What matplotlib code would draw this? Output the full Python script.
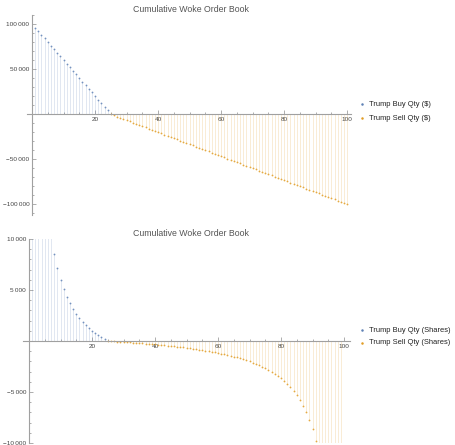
import numpy as np
import matplotlib
matplotlib.use("Agg")
import matplotlib.pyplot as plt
from matplotlib.ticker import FuncFormatter, MultipleLocator
from matplotlib.lines import Line2D

plt.rcParams['font.family'] = ['Liberation Sans', 'DejaVu Sans']

# price levels
buy_x = list(range(1, 25))
sell_x = list(range(25, 101))
sell_sh_x = list(range(25, 100))

# dollar quantities
buy_usd = [96000, 92000, 88000, 84000, 80000, 76000, 72000, 68000, 64000, 60000,
           56000, 52000, 48000, 44000, 40000, 36000, 32000, 28000, 24000, 20000,
           16000, 12000, 8000, 4000]
sell_usd = [0, -1333, -2667, -4000, -5333, -6667, -8000, -9333, -10667, -12000,
            -13333, -14667, -16000, -17333, -18667, -20000, -21333, -22667, -24000, -25333,
            -26667, -28000, -29333, -30667, -32000, -33333, -34667, -36000, -37333, -38667,
            -40000, -41333, -42667, -44000, -45333, -46667, -48000, -49333, -50667, -52000,
            -53333, -54667, -56000, -57333, -58667, -60000, -61333, -62667, -64000, -65333,
            -66667, -68000, -69333, -70667, -72000, -73333, -74667, -76000, -77333, -78667,
            -80000, -81333, -82667, -84000, -85333, -86667, -88000, -89333, -90667, -92000,
            -93333, -94667, -96000, -97333, -98667, -100000]

# share quantities
buy_sh = [96000, 46000, 29333, 21000, 16000, 12667, 10286, 8500, 7111, 6000,
          5091, 4333, 3692, 3143, 2667, 2250, 1882, 1556, 1263, 1000,
          762, 545, 348, 167]
sell_sh = [0, -18, -37, -56, -75, -95, -116, -137, -159, -182,
           -205, -229, -254, -280, -306, -333, -362, -391, -421, -452,
           -485, -519, -553, -590, -627, -667, -707, -750, -794, -841,
           -889, -939, -992, -1048, -1106, -1167, -1231, -1298, -1369, -1444,
           -1524, -1608, -1697, -1792, -1892, -2000, -2115, -2238, -2370, -2513,
           -2667, -2833, -3014, -3212, -3429, -3667, -3930, -4222, -4549, -4917,
           -5333, -5810, -6359, -7000, -7758, -8667, -9778, -11167, -12952, -15333,
           -18667, -23667, -32000, -48667, -98667]

blue = '#5e81b5'
orange = '#e19c24'
W, H = 456, 445


def fmt(v, pos):
    if v == 0:
        return ''
    s = '{:,}'.format(int(abs(v))).replace(',', '\u2009')
    return ('\u2212' + s) if v < 0 else s


def setup(ax, xlim, ylim, ymaj, ymin):
    ax.set_xlim(*xlim)
    ax.set_ylim(*ylim)
    for s in ['top', 'right']:
        ax.spines[s].set_visible(False)
    ax.spines['left'].set_position(('data', 0))
    ax.spines['bottom'].set_position(('data', 0))
    for s in ['left', 'bottom']:
        ax.spines[s].set_color('#a0a0a0')
        ax.spines[s].set_linewidth(0.8)
    ax.xaxis.set_major_locator(MultipleLocator(20))
    ax.xaxis.set_minor_locator(MultipleLocator(5))
    ax.yaxis.set_major_locator(MultipleLocator(ymaj))
    ax.yaxis.set_minor_locator(MultipleLocator(ymin))
    ax.xaxis.set_major_formatter(FuncFormatter(fmt))
    ax.yaxis.set_major_formatter(FuncFormatter(fmt))
    ax.tick_params(which='both', direction='in', color='#a0a0a0', labelsize=4.6,
                   labelcolor='#444444', width=0.6, pad=2)
    ax.tick_params(which='major', length=3)
    ax.tick_params(which='minor', length=1.5)
    ax.patch.set_alpha(0)


def stems(ax, x, y, c):
    ax.vlines(x, 0, y, color=c, alpha=0.22, lw=0.6)
    ax.plot(x, y, 'o', ms=1.3, color=c, alpha=0.85, mec='none', clip_on=True)


fig = plt.figure(figsize=(W / 100, H / 100), dpi=100)

ax1 = fig.add_axes([27 / W, 1 - 215 / H, 324 / W, 200 / H])
setup(ax1, (-1.6, 101.2), (-112000, 110000), 50000, 10000)
stems(ax1, buy_x, buy_usd, blue)
stems(ax1, sell_x, sell_usd, orange)

ax2 = fig.add_axes([22.7 / W, 1 - 443 / H, 327.6 / W, 204 / H])
setup(ax2, (-2, 102), (-10000, 10000), 5000, 1000)
stems(ax2, buy_x, buy_sh, blue)
stems(ax2, sell_sh_x, sell_sh, orange)

fig.text(191 / W, 1 - 9 / H, 'Cumulative Woke Order Book', ha='center', va='center',
         fontsize=6.3, color='#555555')
fig.text(191 / W, 1 - 233 / H, 'Cumulative Woke Order Book', ha='center', va='center',
         fontsize=6.3, color='#555555')

legends = [
    (104, 'Trump Buy Qty (\\$)', blue), (118, 'Trump Sell Qty (\\$)', orange),
    (330, 'Trump Buy Qty (Shares)', blue), (343, 'Trump Sell Qty (Shares)', orange),
]
for yy, lab, c in legends:
    fig.add_artist(Line2D([362 / W], [1 - yy / H], transform=fig.transFigure,
                          marker='o', ms=1.8, color=c, mec='none', ls=''))
    fig.text(369 / W, 1 - yy / H, lab, ha='left', va='center', fontsize=5.4, color='#222222')

fig.savefig('out.png', dpi=100)
